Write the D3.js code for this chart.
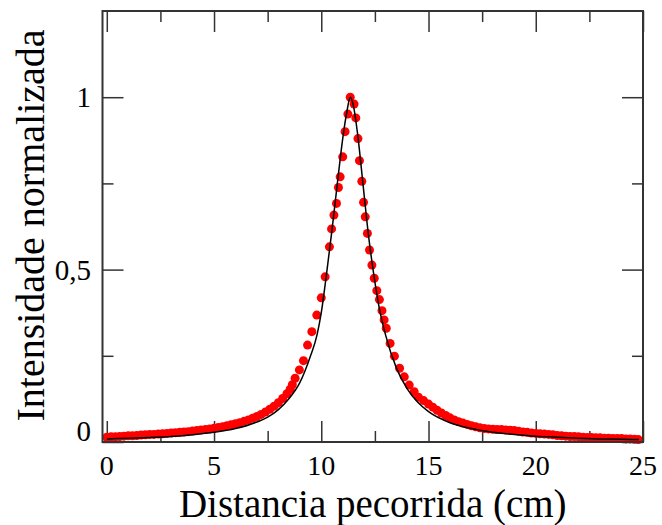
<!DOCTYPE html>
<html>
<head>
<meta charset="utf-8">
<script src="https://cdn.jsdelivr.net/npm/d3@7"></script>
<style>
  body { margin: 0; background: #fff; }
  svg text { font-family: "Liberation Serif", "Times New Roman", serif; fill: #000; }
</style>
</head>
<body>
<div id="chart"></div>
<script>
// measured points (red dots)
const dotX = [
  0.0, 0.2, 0.4, 0.6, 0.8, 1.0, 1.2, 1.4, 1.6, 1.8, 2.0, 2.2, 2.4, 2.6, 2.8, 3.0,
  3.2, 3.4, 3.6, 3.8, 4.0, 4.2, 4.4, 4.6, 4.8, 5.0, 5.2, 5.4, 5.6, 5.8, 6.0, 6.2,
  6.4, 6.6, 6.8, 7.0, 7.2, 7.4, 7.6, 7.8, 8.0, 8.2, 8.4, 8.55, 8.65, 8.78, 8.98,
  9.17, 9.36, 9.56, 9.79, 10.0, 10.18, 10.38, 10.48, 10.59, 10.71, 10.8, 10.88,
  11.0, 11.11, 11.24, 11.35, 11.53, 11.61, 11.71, 11.78, 11.89, 11.97, 12.05,
  12.15, 12.25, 12.36, 12.47, 12.59, 12.71, 12.83, 12.93, 13.03, 13.21, 13.41,
  13.65, 13.87, 14.1, 14.33, 14.53, 14.77, 15.0, 15.2, 15.4, 15.6, 15.8, 16.0,
  16.2, 16.4, 16.6, 16.8, 17.0, 17.2, 17.4, 17.6, 17.8, 18.0, 18.2, 18.4, 18.6,
  18.8, 19.0, 19.2, 19.4, 19.6, 19.8, 20.0, 20.2, 20.4, 20.6, 20.8, 21.0, 21.2,
  21.4, 21.6, 21.8, 22.0, 22.2, 22.4, 22.6, 22.8, 23.0, 23.2, 23.4, 23.6, 23.8,
  24.0, 24.2, 24.4, 24.6, 24.78
];
const dotY = [
  0.014, 0.015, 0.015, 0.016, 0.017, 0.018, 0.018, 0.019, 0.020, 0.021, 0.022, 0.022, 0.023, 0.024, 0.025, 0.026,
  0.027, 0.028, 0.029, 0.030, 0.032, 0.033, 0.035, 0.036, 0.038, 0.040, 0.042, 0.044, 0.047, 0.050, 0.053, 0.056,
  0.060, 0.064, 0.069, 0.074, 0.080, 0.087, 0.095, 0.104, 0.114, 0.126, 0.140, 0.153, 0.166, 0.185, 0.209,
  0.236, 0.281, 0.320, 0.368, 0.418, 0.479, 0.566, 0.618, 0.658, 0.692, 0.738, 0.769,
  0.827, 0.900, 0.951, 1.000, 0.980, 0.940, 0.880, 0.816, 0.756, 0.695, 0.653,
  0.605, 0.557, 0.513, 0.475, 0.439, 0.413, 0.381, 0.354, 0.330, 0.286, 0.249,
  0.214, 0.189, 0.165, 0.146, 0.130, 0.120, 0.110, 0.101, 0.092, 0.084, 0.077, 0.070,
  0.064, 0.059, 0.055, 0.051, 0.047, 0.044, 0.041, 0.039, 0.038, 0.037, 0.036, 0.036, 0.035,
  0.034, 0.033, 0.031, 0.029, 0.028, 0.026, 0.025, 0.024, 0.023, 0.022, 0.021, 0.019, 0.018,
  0.017, 0.016, 0.016, 0.015, 0.014, 0.013, 0.013, 0.012, 0.012, 0.011, 0.011, 0.010, 0.010,
  0.010, 0.009, 0.009, 0.008, 0.007
];

// fitted curve (black line)
const fitX = [
  0, 1, 2, 3, 4, 5, 6, 7, 7.5, 8, 8.5, 9, 9.5, 9.8, 10, 10.25, 10.5, 10.75, 11, 11.2,
  11.35, 11.5, 11.7, 11.95, 12.2, 12.45, 12.7, 13, 13.5, 14, 14.5, 15, 16, 17, 18, 19,
  20, 21, 22, 23, 24, 24.8
];
const fitY = [
  0.009, 0.011, 0.013, 0.016, 0.021, 0.028, 0.039, 0.058, 0.072, 0.094, 0.126, 0.172, 0.250, 0.310, 0.375, 0.490, 0.615, 0.750, 0.880, 0.960,
  1.000, 0.975, 0.890, 0.745, 0.600, 0.485, 0.390, 0.310, 0.215, 0.155, 0.115, 0.088, 0.056, 0.039, 0.028, 0.022,
  0.017, 0.014, 0.011, 0.009, 0.008, 0.007
];

const xMajor = [0, 5, 10, 15, 20, 25];
const xMinor = [2.5, 7.5, 12.5, 17.5, 22.5];
const yMajor = [0, 0.5, 1];
const yMinor = [0.25, 0.75];
const yTickLabels = ['0', '0,5', '1'];

const W = 662, H = 525;
const plotLeft = 102.5, plotRight = 643, plotTop = 11, plotBottom = 442;

const svg = d3.select('#chart').append('svg')
  .attr('width', W).attr('height', H);

const x = d3.scaleLinear().domain([-0.2, 25]).range([plotLeft, plotRight]);
const y = d3.scaleLinear().domain([0, 1.25]).range([plotBottom, plotTop]);

const axisColor = '#333';
const majorLen = 21, minorLen = 11;

// ticks on all four sides, pointing inward
const axes = [
  [d3.axisBottom(x).tickValues(xMajor).tickSize(-majorLen), `translate(0,${plotBottom})`],
  [d3.axisBottom(x).tickValues(xMinor).tickSize(-minorLen), `translate(0,${plotBottom})`],
  [d3.axisTop(x).tickValues(xMajor).tickSize(-majorLen), `translate(0,${plotTop})`],
  [d3.axisTop(x).tickValues(xMinor).tickSize(-minorLen), `translate(0,${plotTop})`],
  [d3.axisLeft(y).tickValues(yMajor).tickSize(-majorLen), `translate(${plotLeft},0)`],
  [d3.axisLeft(y).tickValues(yMinor).tickSize(-minorLen), `translate(${plotLeft},0)`],
  [d3.axisRight(y).tickValues(yMajor).tickSize(-majorLen), `translate(${plotRight},0)`],
  [d3.axisRight(y).tickValues(yMinor).tickSize(-minorLen), `translate(${plotRight},0)`]
];
axes.forEach(([ax, tr]) => {
  const g = svg.append('g').attr('transform', tr).call(ax.tickFormat(''));
  g.select('.domain').remove();
  g.selectAll('line').attr('stroke', axisColor).attr('stroke-width', 1.5);
});

// dots
svg.append('g').selectAll('circle')
  .data(dotX)
  .enter()
  .append('circle')
  .attr('cx', d => x(d))
  .attr('cy', (d, i) => y(dotY[i]))
  .attr('r', 4.5)
  .attr('fill', '#ff0000');

// fit line
const line = d3.line()
  .x((d, i) => x(fitX[i]))
  .y((d, i) => y(fitY[i]))
  .curve(d3.curveMonotoneX);

svg.append('path')
  .datum(fitX)
  .attr('d', line)
  .attr('fill', 'none')
  .attr('stroke', '#000')
  .attr('stroke-width', 1.5);

// frame
svg.append('rect')
  .attr('x', plotLeft).attr('y', plotTop)
  .attr('width', plotRight - plotLeft).attr('height', plotBottom - plotTop)
  .attr('fill', 'none')
  .attr('stroke', axisColor)
  .attr('stroke-width', 2);

// tick labels
svg.append('g').selectAll('text')
  .data(xMajor)
  .enter()
  .append('text')
  .attr('x', d => x(d))
  .attr('y', 475)
  .attr('text-anchor', 'middle')
  .style('font-size', '28px')
  .text(d => d);

svg.append('g').selectAll('text')
  .data(yMajor)
  .enter()
  .append('text')
  .attr('x', 91)
  .attr('y', d => d === 0 ? y(d) - 1 : y(d) + 10)
  .attr('text-anchor', 'end')
  .style('font-size', '29px')
  .text((d, i) => yTickLabels[i]);

// axis titles
svg.append('text')
  .attr('x', (plotLeft + plotRight) / 2)
  .attr('y', 516.5)
  .attr('text-anchor', 'middle')
  .style('font-size', '39px')
  .text('Distancia pecorrida (cm)');

svg.append('text')
  .attr('transform', `translate(44,${(plotTop + plotBottom) / 2 - 1}) rotate(-90)`)
  .attr('text-anchor', 'middle')
  .style('font-size', '40px')
  .text('Intensidade normalizada');
</script>
</body>
</html>
